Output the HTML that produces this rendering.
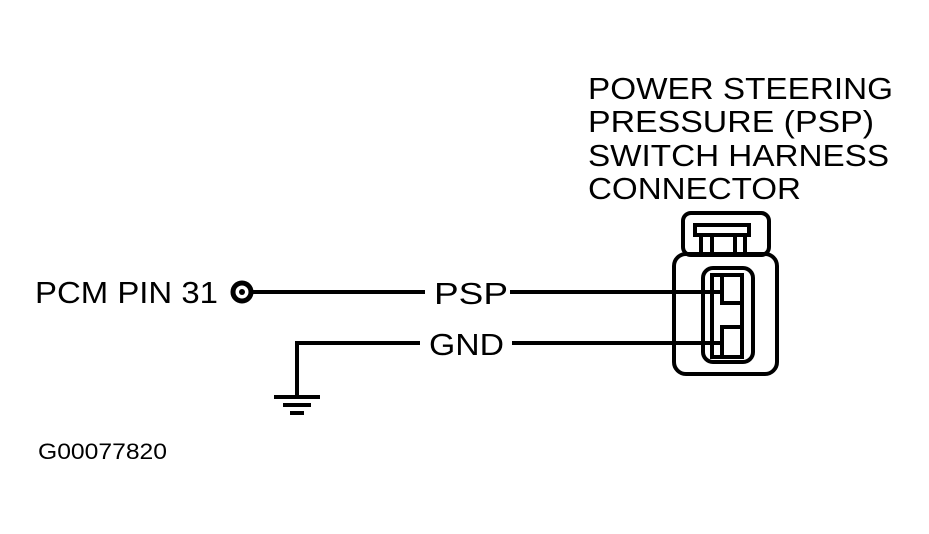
<!DOCTYPE html>
<html><head><style>
body{margin:0;background:#fff;}
svg{display:block}
text{font-family:"Liberation Sans",sans-serif;fill:#000}
</style></head><body>
<svg width="929" height="534" viewBox="0 0 929 534">
<g font-size="31">
<text x="588" y="99" textLength="305" lengthAdjust="spacingAndGlyphs">POWER STEERING</text>
<text x="588" y="132" textLength="286" lengthAdjust="spacingAndGlyphs">PRESSURE (PSP)</text>
<text x="588" y="166" textLength="301" lengthAdjust="spacingAndGlyphs">SWITCH HARNESS</text>
<text x="588" y="199" textLength="213" lengthAdjust="spacingAndGlyphs">CONNECTOR</text>
<text x="35" y="303" textLength="183" lengthAdjust="spacingAndGlyphs">PCM PIN 31</text>
<text x="434" y="304" textLength="74" lengthAdjust="spacingAndGlyphs">PSP</text>
<text x="429" y="355" textLength="75" lengthAdjust="spacingAndGlyphs">GND</text>
</g>
<text x="38" y="459" font-size="22" textLength="129" lengthAdjust="spacingAndGlyphs">G00077820</text>
<g stroke="#000" fill="none" stroke-width="4">
<circle cx="242" cy="292" r="9" stroke-width="5"/>
<line x1="251" y1="292" x2="425" y2="292"/>
<line x1="510" y1="292" x2="722" y2="292"/>
<line x1="295" y1="343" x2="420" y2="343"/>
<line x1="512" y1="343" x2="722" y2="343"/>
<line x1="297" y1="341" x2="297" y2="396"/>
<line x1="274" y1="397" x2="320" y2="397"/>
<line x1="283" y1="405" x2="311" y2="405"/>
<line x1="290" y1="413" x2="304" y2="413"/>
<rect x="683" y="213" width="86" height="42" rx="8"/>
<rect x="674" y="254" width="103" height="120" rx="12"/>
<rect x="703" y="268" width="50" height="94" rx="10"/>
<rect x="712" y="275" width="30" height="82"/>
<rect x="695" y="225" width="54" height="10"/>
<line x1="701" y1="235" x2="701" y2="254"/>
<line x1="712" y1="235" x2="712" y2="254"/>
<line x1="735" y1="235" x2="735" y2="254"/>
<line x1="745" y1="235" x2="745" y2="254"/>
<polyline points="722,276 722,303 742,303"/>
<polyline points="722,356 722,327 742,327"/>
</g>
<circle cx="242" cy="292" r="3" fill="#000"/>
</svg>
</body></html>
